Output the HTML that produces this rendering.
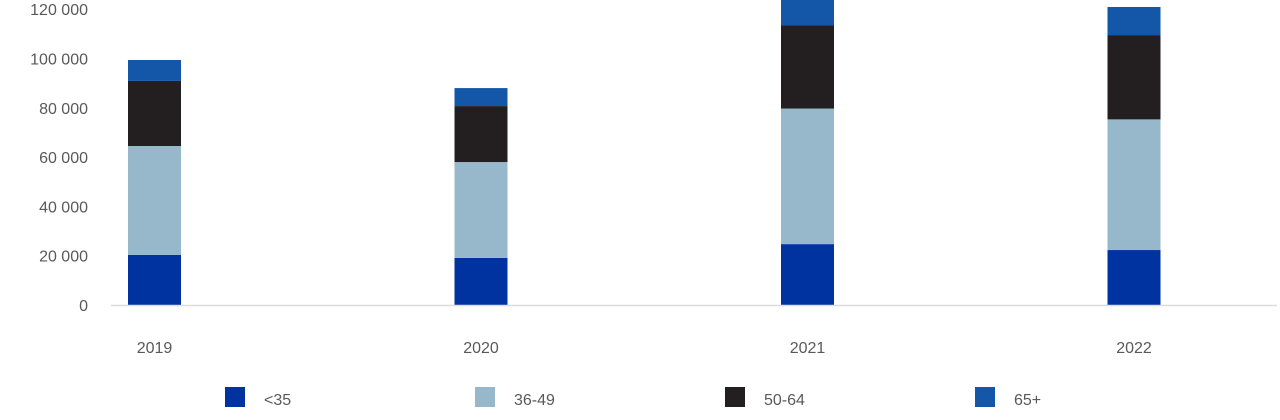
<!DOCTYPE html>
<html><head><meta charset="utf-8"><style>
html,body{margin:0;padding:0;background:#fff;width:1280px;height:420px;overflow:hidden}
text{font-family:"Liberation Sans",sans-serif;fill:#595959}
</style></head><body>
<svg id="chart" width="1280" height="420" viewBox="0 0 1280 420"></svg>
<script>
const categories = ["2019","2020","2021","2022"];
const seriesNames = ["<35","36-49","50-64","65+"];
const s1 = [20300, 19100, 24700, 22300];
const s2 = [44200, 38900, 55000, 53000];
const s3 = [26400, 22700, 33700, 34200];
const s4 = [8500, 7300, 10600, 11400];
const yTicks = [0,20000,40000,60000,80000,100000,120000];
const yTickLabels = ["0","20 000","40 000","60 000","80 000","100 000","120 000"];
const colors = ["#0033a0","#97b8cb","#231f20","#1457a8"];
const NS="http://www.w3.org/2000/svg";
const svg=document.getElementById('chart');
const y0=305, pxPer=49.3/20000;
function yScale(v){return y0 - v*pxPer;}
function xScale(i){return 154.5 + i*326.5;}
function mk(t,a){const e=document.createElementNS(NS,t);for(const k in a)e.setAttribute(k,a[k]);svg.appendChild(e);return e;}
// clip
const defs=mk('defs',{});
const cp=document.createElementNS(NS,'clipPath');cp.setAttribute('id','plotclip');
const cr=document.createElementNS(NS,'rect');cr.setAttribute('x',0);cr.setAttribute('y',0);cr.setAttribute('width',1280);cr.setAttribute('height',400);
cp.appendChild(cr);defs.appendChild(cp);
// y ticks
yTicks.forEach((v,i)=>{
  const t=mk('text',{x:88,y:yScale(v)+6,'text-anchor':'end','font-size':16});
  t.textContent=yTickLabels[i];
  
  
});
// bars
const series=[s1,s2,s3,s4];
const g=mk('g',{'clip-path':'url(#plotclip)'});


categories.forEach((c,i)=>{
  let acc=0;
  series.forEach((s,j)=>{
    const top=yScale(acc+s[i]), bot=yScale(acc);
    const r=document.createElementNS(NS,'rect');
    r.setAttribute('x',xScale(i)-26.5);r.setAttribute('y',top);
    r.setAttribute('width',53);r.setAttribute('height',bot-top);
    r.setAttribute('fill',colors[j]);
    
    
    g.appendChild(r);
    acc+=s[i];
  });
  const t=mk('text',{x:xScale(i),y:353,'text-anchor':'middle','font-size':16});
  t.textContent=c;
  
  
});
const ax=mk('line',{x1:111,x2:1277,y1:y0+0.5,y2:y0+0.5,stroke:'#dcdcdc','stroke-width':1.5});


// legend
seriesNames.forEach((n,j)=>{
  const lx=225+j*250;
  const r=mk('rect',{x:lx,y:387,width:20,height:20,fill:colors[j]});
  
  
  const t=mk('text',{x:lx+39,y:405,'font-size':16});
  t.textContent=n;
  
  
});
</script>
</body></html>
